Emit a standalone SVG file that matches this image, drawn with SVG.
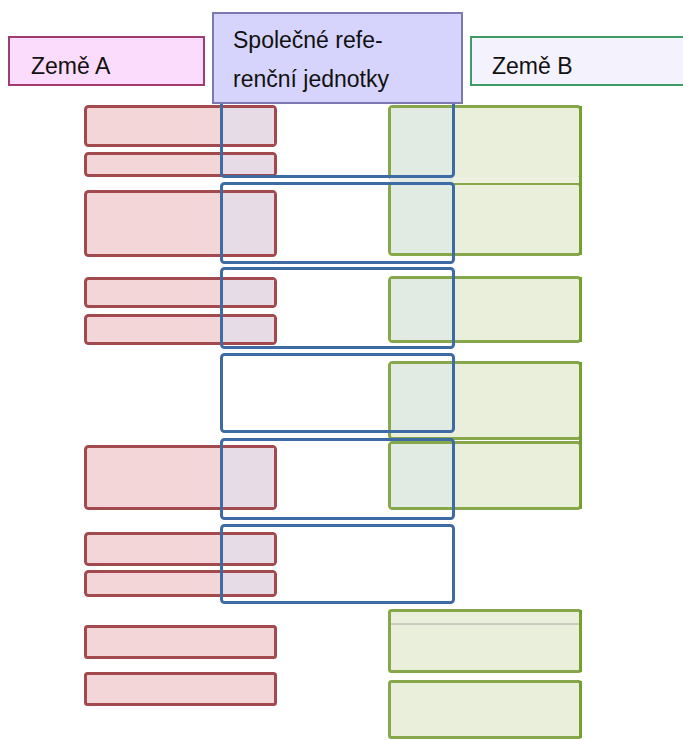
<svg xmlns="http://www.w3.org/2000/svg" width="683" height="740" viewBox="0 0 683 740">
<style>
.lbl{font-family:"Liberation Sans",Arial,sans-serif;font-size:23px;fill:#111}
.pink{fill:#f2d6d8;stroke:#a24a4e;stroke-width:3}
.green{fill:#eaefdc;stroke:#86a84a;stroke-width:3}
.tintP{fill:#e6dde8;opacity:0.9}
.tintG{fill:#e1e9e4;opacity:0.9}
.frame{fill:none;stroke:#3f6ba5;stroke-width:3}
.edgeG{stroke:#74a030;stroke-width:3}
</style>
<rect width="683" height="740" fill="#fff"/>

<g id="countryA-boxes">
<rect class="pink" x="85.5" y="106.5" width="190" height="39" rx="3"/>
<rect class="pink" x="85.5" y="153.5" width="190" height="22" rx="3"/>
<rect class="pink" x="85.5" y="191.5" width="190" height="64" rx="3"/>
<rect class="pink" x="85.5" y="278.5" width="190" height="28" rx="3"/>
<rect class="pink" x="85.5" y="315.5" width="190" height="28" rx="3"/>
<rect class="pink" x="85.5" y="446.5" width="190" height="62" rx="3"/>
<rect class="pink" x="85.5" y="533.5" width="190" height="31" rx="3"/>
<rect class="pink" x="85.5" y="571.5" width="190" height="24" rx="3"/>
<rect class="pink" x="85.5" y="626.5" width="190" height="31" rx="2"/>
<rect class="pink" x="85.5" y="673.5" width="190" height="31" rx="2"/>
</g>

<g id="countryB-boxes">
<rect class="green" x="389.5" y="106.5" width="191" height="72" rx="3"/>
<rect class="green" x="389.5" y="183.5" width="191" height="71" rx="3"/>
<rect x="390" y="177" width="192" height="6" fill="#eef1e2"/>
<rect class="green" x="389.5" y="277.5" width="191" height="64" rx="3"/>
<rect class="green" x="389.5" y="362.5" width="191" height="76" rx="3"/>
<rect class="green" x="389.5" y="442.5" width="191" height="66" rx="3"/>
<rect class="green" x="389.5" y="610.5" width="191" height="61" rx="2"/>
<line x1="391" y1="624" x2="581" y2="624" stroke="#a8a8a0" stroke-width="1"/>
<rect class="green" x="389.5" y="681.5" width="191" height="56" rx="2"/>
<g class="edgeG">
<line x1="580.5" y1="106" x2="580.5" y2="255"/>
<line x1="580.5" y1="277" x2="580.5" y2="342"/>
<line x1="580.5" y1="362" x2="580.5" y2="509"/>
<line x1="580.5" y1="610" x2="580.5" y2="672"/>
<line x1="580.5" y1="681" x2="580.5" y2="738"/>
</g>
</g>

<g id="overlaps">
<rect class="tintP" x="223" y="108" width="51" height="36"/>
<rect class="tintP" x="223" y="155" width="51" height="19"/>
<rect class="tintP" x="223" y="193" width="51" height="61"/>
<rect class="tintP" x="223" y="280" width="51" height="25"/>
<rect class="tintP" x="223" y="317" width="51" height="25"/>
<rect class="tintP" x="223" y="448" width="51" height="59"/>
<rect class="tintP" x="223" y="535" width="51" height="28"/>
<rect class="tintP" x="223" y="573" width="51" height="21"/>
<rect class="tintG" x="391" y="108" width="62" height="145"/>
<rect class="tintG" x="391" y="279" width="62" height="61"/>
<rect class="tintG" x="391" y="364" width="62" height="67"/>
<rect class="tintG" x="391" y="444" width="62" height="63"/>
</g>

<g id="common-units">
<rect class="frame" x="221.5" y="98.5" width="232" height="78" rx="3"/>
<rect class="frame" x="221.5" y="183.5" width="232" height="79" rx="3"/>
<rect class="frame" x="221.5" y="268.5" width="232" height="79" rx="3"/>
<rect class="frame" x="221.5" y="354.5" width="232" height="77" rx="3"/>
<rect class="frame" x="221.5" y="439.5" width="232" height="79" rx="3"/>
<rect class="frame" x="221.5" y="525.5" width="232" height="77" rx="3"/>
</g>

<g id="zeme-a">
<rect x="9" y="37" width="195" height="48" fill="#fcdcfc" stroke="#a03c6e" stroke-width="2"/>
<text class="lbl" x="31" y="74">Země A</text>
</g>

<g id="spolecne">
<rect x="213" y="13" width="249" height="90" fill="#d6d4fc" stroke="#7c78b4" stroke-width="2"/>
<text class="lbl" x="233" y="48">Společné refe-</text>
<text class="lbl" x="233" y="87">renční jednotky</text>
</g>

<g id="zeme-b">
<rect x="471" y="37" width="216" height="48" fill="#f4f2fc" stroke="#3c9c64" stroke-width="2"/>
<text class="lbl" x="492" y="74">Země B</text>
</g>
</svg>
